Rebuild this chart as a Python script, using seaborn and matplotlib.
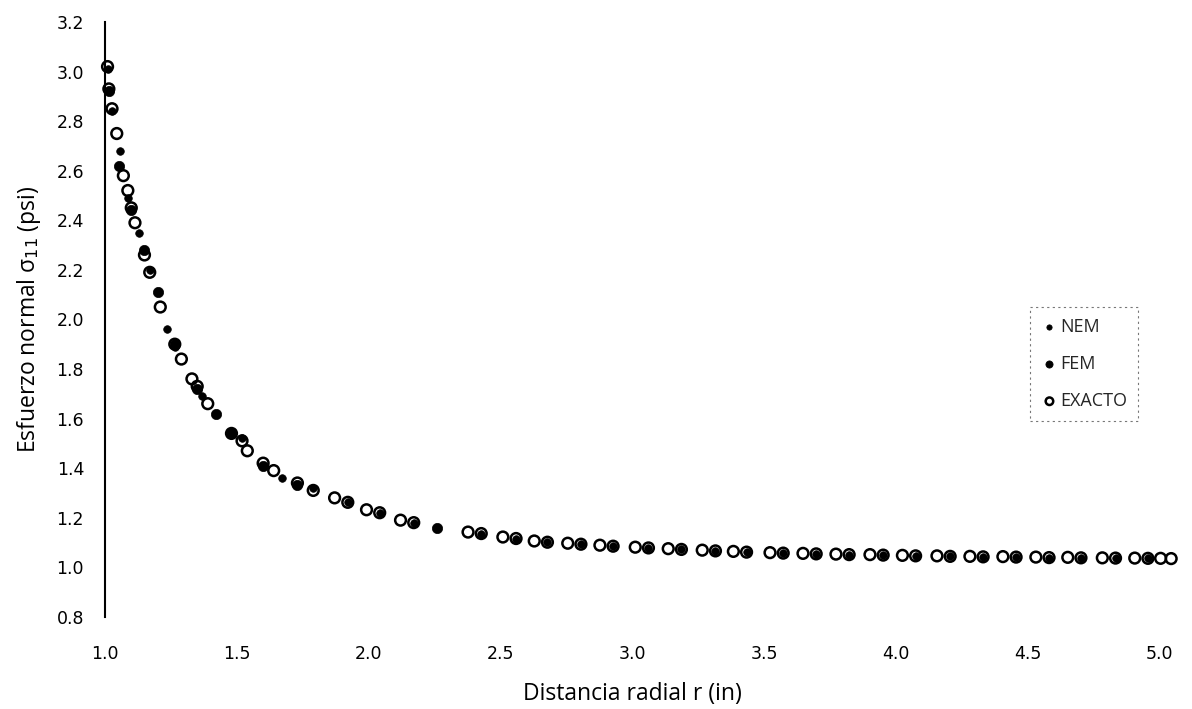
import matplotlib
matplotlib.use("Agg")
import matplotlib.pyplot as plt
import seaborn as sns
import pandas as pd

# ---------------- data ----------------
exacto_r = [1.010, 1.015, 1.027, 1.045, 1.070, 1.087, 1.100, 1.114, 1.150, 1.170,
            1.210, 1.265, 1.290, 1.330, 1.350, 1.390, 1.480, 1.520, 1.540, 1.600,
            1.640, 1.730, 1.790, 1.871, 1.921, 1.992, 2.042, 2.121, 2.171,
            2.377, 2.427, 2.509, 2.559, 2.628, 2.678, 2.755, 2.805, 2.877, 2.927,
            3.011, 3.061, 3.136, 3.186, 3.265, 3.315, 3.383, 3.433, 3.522, 3.572,
            3.647, 3.697, 3.772, 3.822, 3.901, 3.951, 4.024, 4.074, 4.155, 4.205,
            4.280, 4.330, 4.405, 4.455, 4.530, 4.580, 4.651, 4.701, 4.782, 4.832,
            4.905, 4.955, 5.003, 5.043]
exacto_s = [3.020, 2.930, 2.850, 2.750, 2.580, 2.520, 2.450, 2.390, 2.260, 2.190,
            2.050, 1.900, 1.840, 1.760, 1.730, 1.660, 1.540, 1.510, 1.470, 1.420,
            1.390, 1.340, 1.310, 1.280, 1.262, 1.232, 1.220, 1.190, 1.180,
            1.142, 1.136, 1.122, 1.116, 1.106, 1.101, 1.097, 1.093, 1.089, 1.085,
            1.081, 1.078, 1.075, 1.072, 1.069, 1.066, 1.064, 1.061, 1.059, 1.057,
            1.056, 1.054, 1.053, 1.051, 1.051, 1.049, 1.048, 1.046, 1.046, 1.044,
            1.044, 1.042, 1.043, 1.041, 1.041, 1.039, 1.040, 1.038, 1.038, 1.037,
            1.037, 1.036, 1.036, 1.035]

nem_r = [1.010, 1.027, 1.057, 1.087, 1.130, 1.170, 1.235, 1.265, 1.370, 1.420,
         1.520, 1.670, 1.790, 1.921, 2.042, 2.171, 2.427, 2.559, 2.678, 2.805,
         2.927, 3.061, 3.186, 3.315, 3.433, 3.572, 3.697, 3.822, 3.951, 4.074,
         4.205, 4.330, 4.455, 4.580, 4.701, 4.832, 4.955]
nem_s = [3.010, 2.840, 2.680, 2.490, 2.350, 2.200, 1.960, 1.890, 1.690, 1.620,
         1.520, 1.360, 1.320, 1.262, 1.220, 1.180, 1.136, 1.116, 1.101, 1.093,
         1.085, 1.078, 1.072, 1.066, 1.061, 1.057, 1.054, 1.051, 1.049, 1.046,
         1.044, 1.042, 1.041, 1.039, 1.038, 1.037, 1.036]

fem_r = [1.015, 1.053, 1.100, 1.150, 1.200, 1.265, 1.350, 1.420, 1.480, 1.600,
         1.730, 2.261]
fem_s = [2.920, 2.620, 2.440, 2.280, 2.110, 1.900, 1.720, 1.620, 1.540, 1.410,
         1.330, 1.159]

x_ticks = [1.0, 1.5, 2.0, 2.5, 3.0, 3.5, 4.0, 4.5, 5.0]
y_ticks = [0.8, 1.0, 1.2, 1.4, 1.6, 1.8, 2.0, 2.2, 2.4, 2.6, 2.8, 3.0, 3.2]

# ---------------- plot ----------------
sns.set_theme(style="white")
plt.rcParams["font.family"] = ["Open Sans", "DejaVu Sans"]

fig = plt.figure(figsize=(11.92, 7.09), dpi=100)
ax = fig.add_axes([0.088, 0.130, 0.885, 0.839])

df_nem = pd.DataFrame({"r": nem_r, "s": nem_s})
df_fem = pd.DataFrame({"r": fem_r, "s": fem_s})
df_ex = pd.DataFrame({"r": exacto_r, "s": exacto_s})

sns.scatterplot(data=df_nem, x="r", y="s", ax=ax, color="black", s=30,
                marker="o", edgecolor="black", linewidth=0.5, label="NEM",
                zorder=3, clip_on=False)
sns.scatterplot(data=df_fem, x="r", y="s", ax=ax, color="black", s=55,
                marker="o", edgecolor="black", linewidth=0.5, label="FEM",
                zorder=3, clip_on=False)
sns.scatterplot(data=df_ex, x="r", y="s", ax=ax, s=60, marker="o",
                facecolor="none", edgecolor="black", linewidth=1.8,
                label="EXACTO", zorder=4, clip_on=False)

ax.set_xlim(1.0, 5.0)
ax.set_ylim(0.8, 3.2)
ax.set_xticks(x_ticks)
ax.set_yticks(y_ticks)
ax.set_xticklabels([f"{v:.1f}" for v in x_ticks], fontsize=12.5,
                   family="DejaVu Sans")
ax.set_yticklabels([f"{v:.1f}" for v in y_ticks], fontsize=12.5,
                   family="DejaVu Sans")
ax.tick_params(axis="x", length=0, pad=20, colors="black")
ax.tick_params(axis="y", length=0, pad=15, colors="black")

for side in ["top", "right", "bottom"]:
    ax.spines[side].set_visible(False)
ax.spines["left"].set_color("black")
ax.spines["left"].set_linewidth(1.5)

ax.set_xlabel("Distancia radial r (in)", fontsize=16.5, labelpad=14, color="black")
ax.set_ylabel("Esfuerzo normal σ$_{11}$ (psi)", fontsize=16.5,
              labelpad=10, color="black")

leg = ax.legend(loc="center left", bbox_to_anchor=(0.868, 0.425), frameon=True,
                fontsize=13, handletextpad=0.1, borderpad=0.6, labelspacing=1.05,
                markerscale=0.7, handlelength=1.0)
frame = leg.get_frame()
frame.set_edgecolor("#555555")
frame.set_linestyle((0, (2, 3)))
frame.set_linewidth(0.8)
frame.set_boxstyle("square", pad=0)

fig.savefig("out.png", dpi=100)
